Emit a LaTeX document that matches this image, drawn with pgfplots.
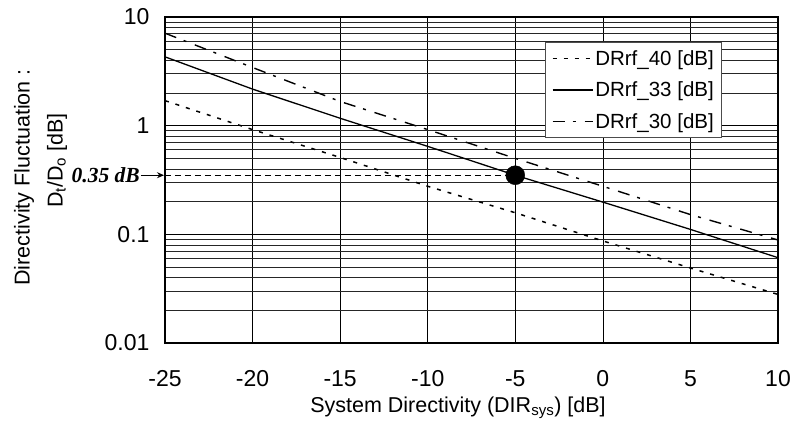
\documentclass[border=0pt]{standalone}
\usepackage{fontspec}
\setmainfont{Liberation Sans}
\newfontfamily\annfont{Liberation Serif}
\usepackage{pgfplots}
\pgfplotsset{compat=1.18}
\usetikzlibrary{arrows.meta}

\pgfplotsset{
  dirdot/.style={black, line width=1.5pt, dash pattern=on 4pt off 7pt},
  dirsolid/.style={black, line width=1.3pt},
  dirdashdot/.style={black, line width=1.4pt, dash pattern=on 12pt off 8pt on 3pt off 9pt},
  refline/.style={black, line width=1pt, dash pattern=on 6pt off 4pt},
}

\begin{document}
\begin{tikzpicture}
\path[use as bounding box] (-165pt,-89pt) rectangle (627pt,343pt);
\begin{axis}[
    scale only axis,
    width=613pt,
    height=326pt,
    ymode=log,
    xmin=-25, xmax=10,
    ymin=0.01, ymax=10,
    xtick={-25,-20,-15,-10,-5,0,5,10},
    xticklabels={-25,-20,-15,-10,-5,0,5,10},
    ytick={0.01,0.1,1,10},
    yticklabels={0.01,0.1,1,10},
    grid=both,
    major grid style={black, line width=0.7pt},
    minor grid style={black!85, line width=0.7pt},
    axis line style={black, line width=1.1pt},
    major tick length=0pt,
    minor tick length=0pt,
    tick label style={font=\fontsize{23}{27}\selectfont},
    xticklabel style={yshift=-24pt},
    yticklabel style={xshift=-12pt},
    label style={font=\fontsize{21.5}{33}\selectfont},
    xlabel={System Directivity (DIR\textsubscript{sys}) [dB]},
    xlabel style={at={(axis description cs:0.478,-0.2)}, anchor=center},
    ylabel={Directivity Fluctuation :\hspace*{34pt}\\D\textsubscript{t}/D\textsubscript{o} [dB]},
    ylabel style={align=center, at={(axis description cs:-0.203,0.56)}, anchor=center},
    legend style={at={(rel axis cs:0.909,0.923)}, anchor=north east,
        draw=black!70, line width=0.8pt, fill=white,
        font=\fontsize{20.5}{24}\selectfont, row sep=11pt,
        inner xsep=6pt, inner ysep=6pt},
    legend cell align=left,
    legend image code/.code={\draw[#1] (0pt,0pt) -- (40pt,0pt);},
    clip=false,
]

% DRrf = 40
\addplot[dirdot] coordinates {
(-25,1.70) (-20,0.92) (-15,0.51) (-10,0.277) (-5,0.158) (0,0.087) (5,0.049) (10,0.028)
};
\addlegendentry{DRrf\_40 [dB]}

% DRrf = 33
\addplot[dirsolid] coordinates {
(-25,4.30) (-20,2.17) (-15,1.17) (-10,0.645) (-5,0.350) (0,0.198) (5,0.111) (10,0.061)
};
\addlegendentry{DRrf\_33 [dB]}

% DRrf = 30
\addplot[dirdashdot] coordinates {
(-25,7.10) (-20,3.43) (-15,1.67) (-10,0.92) (-5,0.50) (0,0.277) (5,0.152) (10,0.0887)
};
\addlegendentry{DRrf\_30 [dB]}

% reading guides at DIR = -5 dB
\addplot[refline, forget plot] coordinates {(-25,0.35) (-5,0.35)};
\addplot[refline, forget plot] coordinates {(-5,0.35) (-5,0.01)};
\addplot[only marks, mark=*, mark size=9.5pt, black, forget plot] coordinates {(-5,0.35)};

\node[anchor=east, font=\annfont\bfseries\itshape\fontsize{21.5}{24}\selectfont, inner sep=0pt]
    at ([xshift=-25pt]axis cs:-25,0.35) {0.35 dB};
\draw[-{Stealth[length=7pt,width=6pt]}, line width=1pt]
    ([xshift=-24pt]axis cs:-25,0.35) -- ([xshift=-1pt]axis cs:-25,0.35);
\end{axis}
\end{tikzpicture}
\end{document}
